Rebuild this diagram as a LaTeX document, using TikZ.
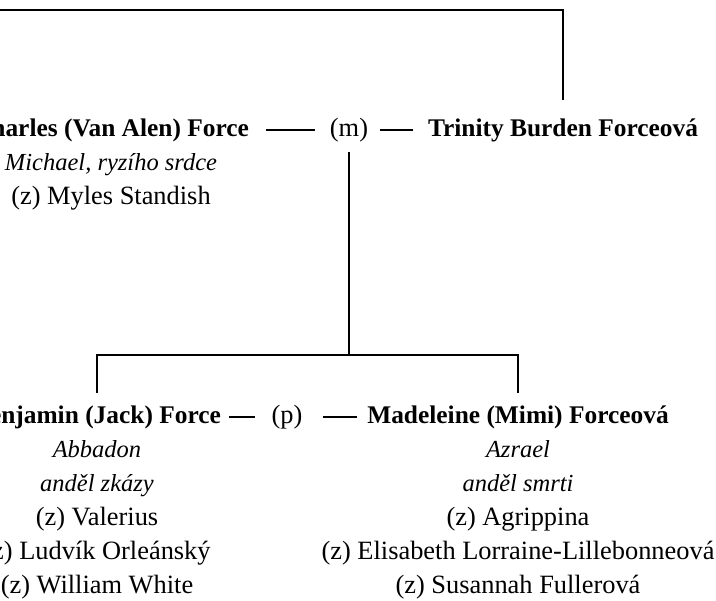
\documentclass[tikz,border=0pt]{standalone}
\usepackage{fontspec}
\setmainfont{Liberation Serif}
\usetikzlibrary{positioning}
\newcommand\linestrut{\rule[-10pt]{0pt}{34pt}}
\newcommand\epithet[1]{{\fontsize{24.5}{34}\selectfont\itshape #1}}
\tikzset{
  person/.style={font=\fontsize{25.4}{34}\selectfont\bfseries, inner sep=0pt, outer sep=0pt, text height=24pt, text depth=10pt},
  union/.style={font=\fontsize{26.4}{34}\selectfont, inner sep=0pt, outer sep=0pt, text height=24pt, text depth=10pt},
  details/.style={font=\fontsize{26.4}{34}\selectfont, align=center, inner sep=0pt, outer sep=0pt},
  link/.style={line width=1.5pt}
}
\begin{document}
\begin{tikzpicture}[x=1pt,y=-1pt]
\useasboundingbox (0,0) rectangle (716,601);
\clip (0,0) rectangle (716,601);
% First generation
\node[person] (charles) at (111,130) {Charles (Van Alen) Force};
\node[union] (m) at (349,130) {(m)};
\node[person] (trinity) at (563,130) {Trinity Burden Forceová};
\node[details, below=0pt of charles] (charlesinfo) {\linestrut\epithet{Michael, ryzího srdce}\\
  \linestrut(z) Myles Standish};
% Second generation
\node[person] (benjamin) at (97,417) {Benjamin (Jack) Force};
\node[union] (p) at (287,417) {(p)};
\node[person] (madeleine) at (518,417) {Madeleine (Mimi) Forceová};
\node[details, below=0pt of benjamin] (benjamininfo) {\linestrut\epithet{Abbadon}\\
  \linestrut\epithet{anděl zkázy}\\
  \linestrut(z) Valerius\\
  \linestrut(z) Ludvík Orleánský\\
  \linestrut(z) William White};
\node[details, below=0pt of madeleine] (madeleineinfo) {\linestrut\epithet{Azrael}\\
  \linestrut\epithet{anděl smrti}\\
  \linestrut(z) Agrippina\\
  \linestrut(z) Elisabeth Lorraine-Lillebonneová\\
  \linestrut(z) Susannah Fullerová};
% Marriage lines
\draw[link, shorten <=17pt, shorten >=15pt] (charles) -- (m);
\draw[link, shorten <=12pt, shorten >=15pt] (m) -- (trinity);
\draw[link, shorten <=8pt, shorten >=17pt] (benjamin) -- (p);
\draw[link, shorten <=21pt, shorten >=10pt] (p) -- (madeleine);
% Descent lines
\coordinate (topleft) at (0,10);
\coordinate (fork) at (349,355);
\draw[link, shorten <=13pt] (trinity.north) |- (topleft);
\draw[link, shorten <=5pt] (m.south) -- (fork);
\draw[link, shorten <=7pt, shorten >=7pt] (benjamin.north) |- (fork) -| (madeleine.north);
\end{tikzpicture}
\end{document}
